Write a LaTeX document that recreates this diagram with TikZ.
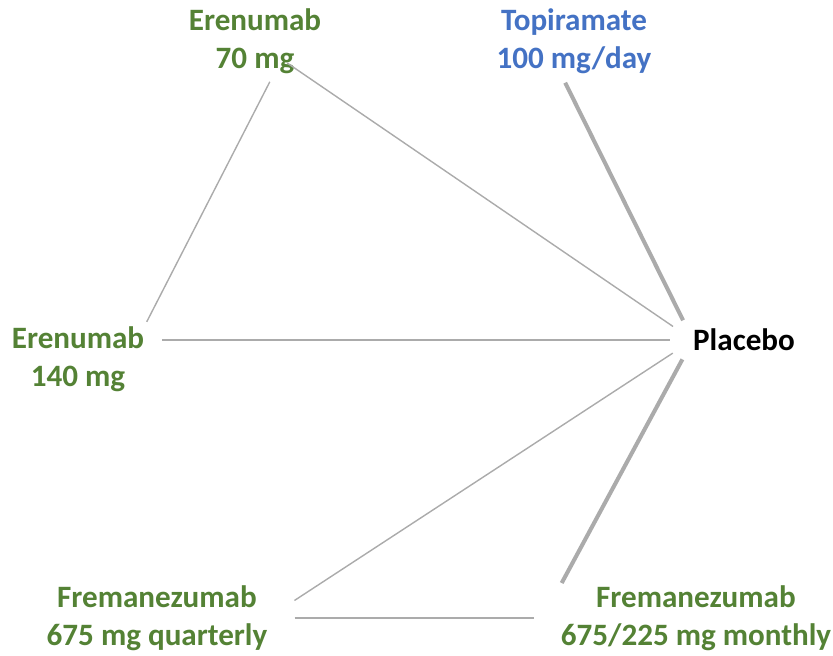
\documentclass[tikz,border=0pt]{standalone}
\usepackage{fontspec}
\setmainfont{Carlito}
\definecolor{drugGreen}{HTML}{548235}
\definecolor{drugBlue}{HTML}{4472C4}
\definecolor{edgeGray}{HTML}{ABABAB}
\begin{document}
\begin{tikzpicture}[x=0.02cm, y=-0.02cm,
		treat/.style = {inner sep=0pt, align=center,
				font=\fontsize{17.7}{21.5}\selectfont\bfseries},
		thinlink/.style = {edgeGray, line width=0.8pt},
		thicklink/.style = {edgeGray, line width=2.3pt}
	]
	\useasboundingbox (0,0) rectangle (833,656);

	\node[treat, text=drugGreen] (e70) at (255,41) {Erenumab\\70 mg};
	\node[treat, text=drugBlue] (top) at (574,41) {Topiramate\\100 mg/day};
	\node[treat, text=drugGreen] (e140) at (78,359) {Erenumab\\140 mg};
	\node[treat] (pla) at (744,340) {Placebo};
	\node[treat, text=drugGreen] (fq) at (157,618) {Fremanezumab\\675 mg quarterly};
	\node[treat, text=drugGreen] (fm) at (696,618) {Fremanezumab\\675/225 mg monthly};

	\draw[thinlink, shorten <=0.78cm, shorten >=0.48cm] (e70.center) -- (pla.west);
	\draw[thinlink, shorten <=0.18cm, shorten >=0.1cm] (e70.300) -- (e140.north east);
	\draw[thicklink, shorten <=0.2cm, shorten >=0.44cm] (top.248) -- (pla.west);
	\draw[thinlink, shorten <=0.36cm, shorten >=0.46cm] (e140.east |- pla.west) -- (pla.west);
	\draw[thinlink, shorten <=0.64cm, shorten >=0.48cm] (fq.east) -- (pla.west);
	\draw[thinlink, line width=1.1pt, yshift=0.14cm, shorten <=0.54cm, shorten >=0.54cm] (fq.east) -- (fm.west);
	\draw[thicklink, shorten <=0.05cm, shorten >=0.44cm] (fm.north west) -- (pla.west);
\end{tikzpicture}
\end{document}
